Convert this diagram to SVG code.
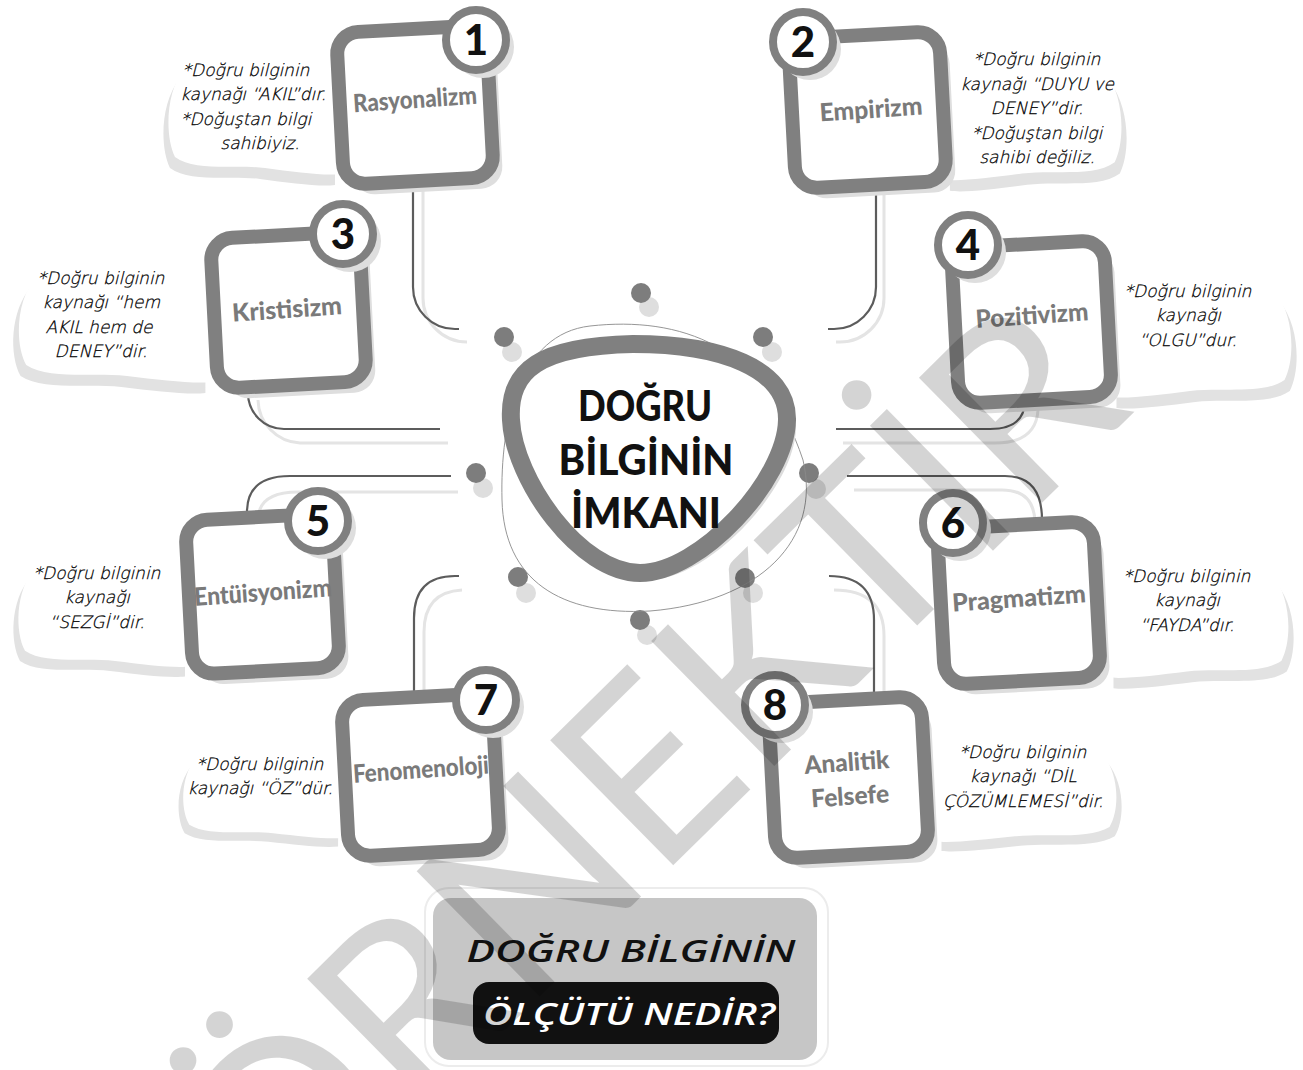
<svg xmlns="http://www.w3.org/2000/svg" xmlns:xlink="http://www.w3.org/1999/xlink" width="1303" height="1070" viewBox="0 0 1303 1070">
<style>
.note{font-family:"DejaVu Sans ExtraLight","DejaVu Sans Light","DejaVu Sans",sans-serif;font-style:italic;font-weight:200;font-size:17px;fill:#000;stroke:#000;stroke-width:0.25;text-anchor:middle}
.title{font-family:Lato,"Liberation Sans",sans-serif;font-weight:900;font-size:25px;fill:#7a7a7a;text-anchor:middle}
.num{font-family:Lato,"Liberation Sans",sans-serif;font-weight:900;font-size:42px;fill:#111;text-anchor:middle}
.box{fill:#fff;stroke:#808080;stroke-width:14}
.boxsh{fill:#dedede}
.badge{fill:#fff;stroke:#808080;stroke-width:8}
.badgesh{fill:#dedede}
.cloud{fill:#fff}
.cloudsh{fill:#e2e2e2}
.conn{fill:none;stroke:#5c5c5c;stroke-width:2.2}
.connsh{fill:none;stroke:#e4e4e4;stroke-width:3}
.dd{fill:#7d7d7d}
.dl{fill:#dedede}
.center{font-family:Lato,"Liberation Sans",sans-serif;font-weight:900;font-size:42px;fill:#111;text-anchor:middle}
.q{font-family:"Open Sans","Liberation Sans",sans-serif;font-style:italic;font-weight:600;font-size:31px;text-anchor:middle}
.wm{font-family:Lato,"Liberation Sans",sans-serif;font-weight:400;font-size:245px;fill:#000;fill-opacity:0.17;text-anchor:middle}
</style>
<defs>
<path id="cloudL" d="M175,10 C120,0 50,-5 20,25 C0,50 0,95 10,115 C30,130 70,122 100,126 C130,130 160,134 175,132 Z"/>
</defs>
<rect width="1303" height="1070" fill="#fff"/>

<g id="clouds">
<g transform="translate(165,42)"><use href="#cloudL" class="cloudsh" transform="translate(-5,11)"/><use href="#cloudL" class="cloud"/></g>
<g transform="translate(15,250) scale(1.12,1)"><use href="#cloudL" class="cloudsh" transform="translate(-5,11)"/><use href="#cloudL" class="cloud"/></g>
<g transform="translate(15,545) scale(1,0.92)"><use href="#cloudL" class="cloudsh" transform="translate(-5,11)"/><use href="#cloudL" class="cloud"/></g>
<g transform="translate(180,735) scale(0.93,0.78)"><use href="#cloudL" class="cloudsh" transform="translate(-5,11)"/><use href="#cloudL" class="cloud"/></g>
<g transform="translate(1125,45) scale(-1.03,1.02)"><use href="#cloudL" class="cloudsh" transform="translate(-5,11)"/><use href="#cloudL" class="cloud"/></g>
<g transform="translate(1295,265) scale(-1.05,1.0)"><use href="#cloudL" class="cloudsh" transform="translate(-5,11)"/><use href="#cloudL" class="cloud"/></g>
<g transform="translate(1292,548) scale(-1.05,0.98)"><use href="#cloudL" class="cloudsh" transform="translate(-5,11)"/><use href="#cloudL" class="cloud"/></g>
<g transform="translate(1120,728) scale(-1.05,0.86)"><use href="#cloudL" class="cloudsh" transform="translate(-5,11)"/><use href="#cloudL" class="cloud"/></g>
</g>

<g id="connectors">
<path class="connsh" d="M423,190 V298 A44,44 0 0 0 467,342"/>
<path class="conn" d="M413,188 V287 A42,42 0 0 0 455,329 H459"/>
<path class="connsh" d="M884,194 V298 A44,44 0 0 1 840,342 H836"/>
<path class="conn" d="M876,192 V287 A42,42 0 0 1 834,329 H828"/>
<path class="connsh" d="M258,400 A44,44 0 0 0 300,443 H448"/>
<path class="conn" d="M248,393 A36,36 0 0 0 284,429 H440"/>
<path class="connsh" d="M843,443 H995 Q1036,443 1038,410"/>
<path class="conn" d="M836,429 H990 Q1025,429 1025,400"/>
<path class="connsh" d="M458,492 H298 Q258,492 258,520"/>
<path class="conn" d="M451,476 H290 Q247,476 247,512"/>
<path class="connsh" d="M854,490 H1002 Q1034,490 1035,522"/>
<path class="conn" d="M847,476 H1005 Q1042,476 1042,520"/>
<path class="connsh" d="M462,590 Q424,592 424,632 V692"/>
<path class="conn" d="M459,576 H455 Q414,576 414,618 V692"/>
<path class="connsh" d="M834,590 Q884,590 884,636 V696"/>
<path class="conn" d="M829,576 Q874,576 874,620 V696"/>
</g>

<g id="dots">
<circle class="dl" cx="649" cy="307" r="10"/><circle class="dd" cx="641" cy="293" r="10"/>
<circle class="dl" cx="512" cy="352" r="10"/><circle class="dd" cx="504" cy="337" r="10"/>
<circle class="dl" cx="772" cy="352" r="10"/><circle class="dd" cx="763" cy="337" r="10"/>
<circle class="dl" cx="483" cy="488" r="10"/><circle class="dd" cx="476" cy="473" r="10"/>
<circle class="dl" cx="816" cy="489" r="10"/><circle class="dd" cx="809" cy="473" r="10"/>
<circle class="dl" cx="526" cy="593" r="10"/><circle class="dd" cx="518" cy="577" r="10"/>
<circle class="dl" cx="753" cy="593" r="10"/><circle class="dd" cx="745" cy="578" r="10"/>
<circle class="dl" cx="647" cy="635" r="10"/><circle class="dd" cx="640" cy="620" r="10"/>
</g>

<g id="center">
<path d="M590,326 C680,316 765,345 803,460 C822,540 760,602 650,611 C560,616 504,580 502,500 C500,420 520,334 590,326 Z" fill="none" stroke="#8a8a8a" stroke-width="0.9"/>
<path d="M520,425 C515,375 548,352 640,350 C728,350 796,374 796,428 C795,488 709,580 648,580 C588,580 523,488 520,425 Z" fill="#dcdcdc"/>
<path d="M511,420 C508,370 540,346 633,344 C720,344 788,368 787,420 C786,480 700,573 640,573 C580,573 514,480 511,420 Z" fill="#fff" stroke="#808080" stroke-width="18"/>
<text class="center" x="645" y="421" textLength="134" lengthAdjust="spacingAndGlyphs">DOĞRU</text>
<text class="center" x="646" y="475" textLength="175" lengthAdjust="spacingAndGlyphs">BİLGİNİN</text>
<text class="center" x="646" y="528" textLength="150" lengthAdjust="spacingAndGlyphs">İMKANI</text>
</g>

<g id="node1">
<text class="note" x="246" y="76">*Doğru bilginin</text>
<text class="note" x="253" y="100">kaynağı “AKIL”dır.</text>
<text class="note" x="246" y="125">*Doğuştan bilgi</text>
<text class="note" x="260" y="149">sahibiyiz.</text>
<g transform="rotate(-3 415 105)"><rect class="boxsh" x="349" y="40" width="150" height="152" rx="22"/><rect class="box" x="340" y="29" width="150" height="152" rx="22"/></g>
<text class="title" transform="rotate(-4 415 100)" x="415" y="108" textLength="124" lengthAdjust="spacingAndGlyphs">Rasyonalizm</text>
<circle class="badgesh" cx="483" cy="47" r="31"/><circle class="badge" cx="476" cy="40" r="30"/><text class="num" x="476" y="55">1</text>
</g>

<g id="node2">
<text class="note" x="1037" y="65">*Doğru bilginin</text>
<text class="note" x="1037" y="90">kaynağı “DUYU ve</text>
<text class="note" x="1037" y="114">DENEY”dir.</text>
<text class="note" x="1037" y="139">*Doğuştan bilgi</text>
<text class="note" x="1037" y="163">sahibi değiliz.</text>
<g transform="rotate(-3 867 110)"><rect class="boxsh" x="801" y="46" width="151" height="150" rx="22"/><rect class="box" x="792" y="35" width="151" height="150" rx="22"/></g>
<text class="title" transform="rotate(-4 871 110)" x="871" y="118" textLength="103" lengthAdjust="spacingAndGlyphs">Empirizm</text>
<circle class="badgesh" cx="810" cy="49" r="31"/><circle class="badge" cx="803" cy="42" r="30"/><text class="num" x="803" y="57">2</text>
</g>

<g id="node3">
<text class="note" x="101" y="284">*Doğru bilginin</text>
<text class="note" x="101" y="308">kaynağı “hem</text>
<text class="note" x="99" y="333">AKIL hem de</text>
<text class="note" x="101" y="357">DENEY”dir.</text>
<g transform="rotate(-3 288 310)"><rect class="boxsh" x="223" y="246" width="149" height="150" rx="22"/><rect class="box" x="214" y="235" width="149" height="150" rx="22"/></g>
<text class="title" transform="rotate(-4 287 310)" x="287" y="318" textLength="110" lengthAdjust="spacingAndGlyphs">Kristisizm</text>
<circle class="badgesh" cx="350" cy="241" r="31"/><circle class="badge" cx="343" cy="234" r="30"/><text class="num" x="343" y="249">3</text>
</g>

<g id="node4">
<text class="note" x="1188" y="297">*Doğru bilginin</text>
<text class="note" x="1188" y="321">kaynağı</text>
<text class="note" x="1188" y="346">“OLGU”dur.</text>
<g transform="rotate(-3 1031 322)"><rect class="boxsh" x="964" y="255" width="153" height="156" rx="22"/><rect class="box" x="955" y="244" width="153" height="156" rx="22"/></g>
<text class="title" transform="rotate(-4 1032 316)" x="1032" y="324" textLength="113" lengthAdjust="spacingAndGlyphs">Pozitivizm</text>
<circle class="badgesh" cx="975" cy="252" r="31"/><circle class="badge" cx="968" cy="245" r="30"/><text class="num" x="968" y="260">4</text>
</g>

<g id="node5">
<text class="note" x="97" y="579">*Doğru bilginin</text>
<text class="note" x="97" y="603">kaynağı</text>
<text class="note" x="97" y="628">“SEZGİ”dir.</text>
<g transform="rotate(-3 262 594)"><rect class="boxsh" x="198" y="528" width="147" height="154" rx="22"/><rect class="box" x="189" y="517" width="147" height="154" rx="22"/></g>
<text class="title" transform="rotate(-4 263 593)" x="263" y="601" textLength="138" lengthAdjust="spacingAndGlyphs">Entüisyonizm</text>
<circle class="badgesh" cx="325" cy="528" r="31"/><circle class="badge" cx="318" cy="521" r="30"/><text class="num" x="318" y="536">5</text>
</g>

<g id="node6">
<text class="note" x="1187" y="582">*Doğru bilginin</text>
<text class="note" x="1187" y="606">kaynağı</text>
<text class="note" x="1187" y="631">“FAYDA”dır.</text>
<g transform="rotate(-3 1019 603)"><rect class="boxsh" x="950" y="536" width="156" height="156" rx="22"/><rect class="box" x="941" y="525" width="156" height="156" rx="22"/></g>
<text class="title" transform="rotate(-4 1019 600)" x="1019" y="607" textLength="134" lengthAdjust="spacingAndGlyphs">Pragmatizm</text>
<circle class="badgesh" cx="960" cy="530" r="31"/><circle class="badge" cx="953" cy="523" r="30"/><text class="num" x="953" y="538">6</text>
</g>

<g id="node7">
<text class="note" x="260" y="770">*Doğru bilginin</text>
<text class="note" x="260" y="794">kaynağı “ÖZ”dür.</text>
<g transform="rotate(-3 420 775)"><rect class="boxsh" x="354" y="708" width="151" height="156" rx="22"/><rect class="box" x="345" y="697" width="151" height="156" rx="22"/></g>
<text class="title" transform="rotate(-4 421 770)" x="421" y="778" textLength="136" lengthAdjust="spacingAndGlyphs">Fenomenoloji</text>
<circle class="badgesh" cx="493" cy="707" r="31"/><circle class="badge" cx="486" cy="700" r="30"/><text class="num" x="486" y="715">7</text>
</g>

<g id="node8">
<text class="note" x="1023" y="758">*Doğru bilginin</text>
<text class="note" x="1023" y="782">kaynağı “DİL</text>
<text class="note" x="1023" y="807">ÇÖZÜMLEMESİ”dir.</text>
<g transform="rotate(-3 848 777)"><rect class="boxsh" x="781" y="711" width="153" height="155" rx="22"/><rect class="box" x="772" y="700" width="153" height="155" rx="22"/></g>
<text class="title" transform="rotate(-4 848 780)" x="848" y="771" textLength="85" lengthAdjust="spacingAndGlyphs">Analitik</text>
<text class="title" transform="rotate(-4 848 780)" x="849" y="805" textLength="78" lengthAdjust="spacingAndGlyphs">Felsefe</text>
<circle class="badgesh" cx="782" cy="712" r="31"/><circle class="badge" cx="775" cy="705" r="30"/><text class="num" x="775" y="720">8</text>
</g>

<g id="question">
<rect x="425" y="888" width="403" height="178" rx="24" fill="#fff" stroke="#ececec" stroke-width="2"/>
<rect x="433" y="898" width="384" height="162" rx="18" fill="#c6c6c6"/>
<text class="q" x="631" y="962" fill="#111" textLength="329" lengthAdjust="spacingAndGlyphs">DOĞRU BİLGİNİN</text>
<rect x="473" y="982" width="306" height="62" rx="16" fill="#111"/>
<text class="q" x="629" y="1025" fill="#fff" textLength="292" lengthAdjust="spacingAndGlyphs">ÖLÇÜTÜ NEDİR?</text>
</g>

<text class="wm" transform="translate(705,834) rotate(-44.5)">ÖRNEKTİR</text>
</svg>
